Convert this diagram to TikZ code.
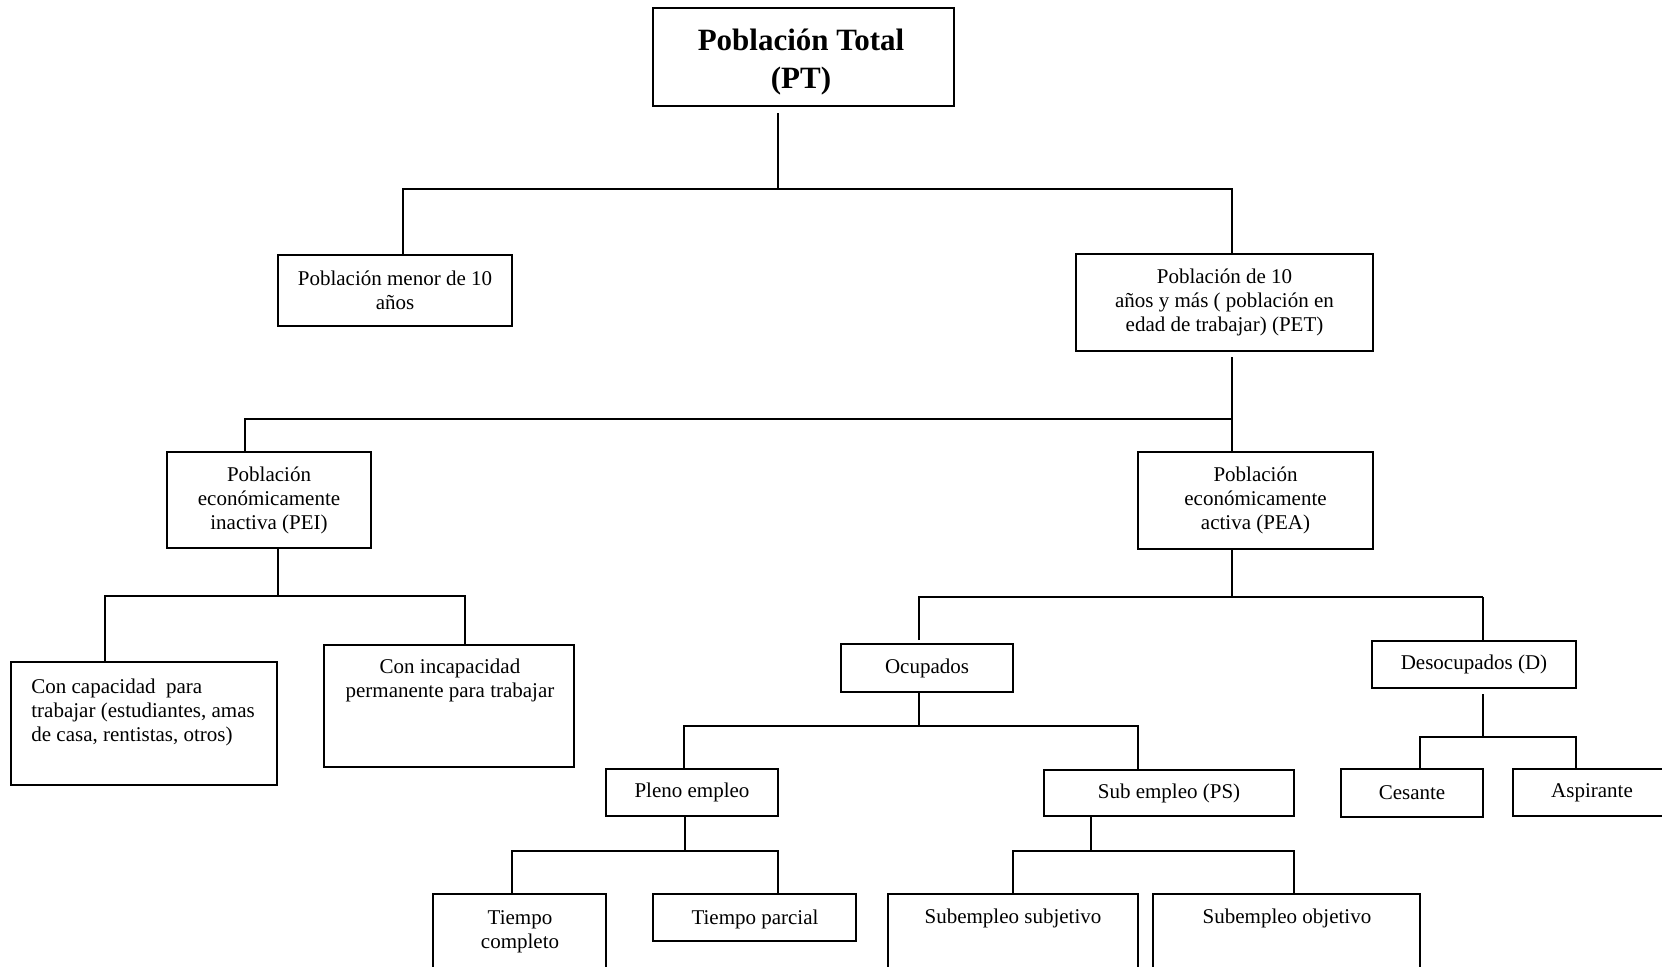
\documentclass[tikz,border=0pt]{standalone}
\usepackage{fontspec}
\setmainfont{Liberation Serif}
\begin{document}
\begin{tikzpicture}[x=0.5pt,y=-0.5pt,
  box/.style={draw, line width=1pt, inner sep=0pt, align=center, font=\fontsize{10.5}{12}\selectfont},
  txt/.style={inner sep=0pt, align=center, font=\fontsize{10.5}{12}\selectfont},
  conn/.style={line width=0.9pt},
  thinconn/.style={line width=0.7pt}]
\useasboundingbox (0,0) rectangle (1662,966);
% boxes
\node[box, minimum width=150.5pt, minimum height=49pt] (pt) at (803.5,57) {};
\node[txt, anchor=base, font=\fontsize{15.5}{19}\selectfont\bfseries] (ptt) at (801,88) {Población Total\\(PT)};
\node[box, minimum width=117pt, minimum height=35.5pt] (menor) at (395,290.5) {Población menor de 10\\años};
\node[box, minimum width=148.5pt, minimum height=48.5pt] (pet) at (1224.5,302.5) {Población de 10\\años y más ( población en\\edad de trabajar) (PET)};
\node[box, minimum width=102pt, minimum height=48pt] (pei) at (269,500) {Población\\económicamente\\inactiva (PEI)};
\node[box, minimum width=117.5pt, minimum height=48.5pt] (pea) at (1255.5,500.5) {Población\\económicamente\\activa (PEA)};
\node[box, minimum width=133pt, minimum height=61.5pt] (concap) at (144,723.5) {};
\node[txt, align=left, anchor=base west] (concapt) at (31,741) {Con capacidad\ \ para\\trabajar (estudiantes, amas\\de casa, rentistas, otros)};
\node[box, minimum width=125pt, minimum height=61pt] (conincap) at (449,706) {};
\node[txt, anchor=base] (conincapt) at (450,697) {Con incapacidad\\permanente para trabajar};
\node[box, minimum width=86pt, minimum height=24pt] (ocup) at (927,668) {Ocupados};
\node[box, minimum width=102pt, minimum height=23.5pt] (desoc) at (1474,664.5) {Desocupados (D)};
\node[box, minimum width=86pt, minimum height=23.5pt] (pleno) at (692,792.5) {Pleno empleo};
\node[box, minimum width=125pt, minimum height=23pt] (sub) at (1169,793) {Sub empleo (PS)};
\node[box, minimum width=71pt, minimum height=24pt] (ces) at (1412,793) {Cesante};
\node[box, minimum width=79pt, minimum height=23.5pt] (asp) at (1592,792.5) {Aspirante};
\node[box, minimum width=86.5pt, minimum height=53pt] (tcomp) at (519.5,947) {};
\node[txt, anchor=base] (tcompt) at (520,948) {Tiempo\\completo};
\node[box, minimum width=101.5pt, minimum height=23.5pt] (tparc) at (754.5,917.5) {};
\node[txt, anchor=base] (tparct) at (755,924) {Tiempo parcial};
\node[box, minimum width=125pt, minimum height=53pt] (ssubj) at (1013,947) {};
\node[txt, anchor=base] (ssubjt) at (1013,923) {Subempleo subjetivo};
\node[box, minimum width=133.5pt, minimum height=53pt] (sobj) at (1286.5,947) {};
\node[txt, anchor=base] (sobjt) at (1287,923) {Subempleo objetivo};
% junctions
\coordinate (h1M) at (778,189); \coordinate (h1L) at (403,189); \coordinate (h1R) at (1232,189);
\coordinate (h2L) at (245,419); \coordinate (h2R) at (1232,419);
\coordinate (h3M) at (278,596); \coordinate (h3L) at (105,596); \coordinate (h3R) at (465,596);
\coordinate (h4M) at (1232,597); \coordinate (h4L) at (919,597); \coordinate (h4R) at (1483,597);
\coordinate (h5M) at (919,726); \coordinate (h5L) at (684,726); \coordinate (h5R) at (1138,726);
\coordinate (h6M) at (1483,737); \coordinate (h6L) at (1420,737); \coordinate (h6R) at (1576,737);
\coordinate (h7M) at (685,851); \coordinate (h7L) at (512,851); \coordinate (h7R) at (778,851);
\coordinate (h8M) at (1091,851); \coordinate (h8L) at (1013,851); \coordinate (h8R) at (1294,851);
% connectors
\draw[conn] ([yshift=-3pt]pt.south -| h1M) -- (h1M);
\draw[conn] (menor.north -| h1L) -- (h1L) -- (h1R) -- (pet.north -| h1R);
\draw[conn] ([yshift=-2.5pt]pet.south -| h2R) -- (pea.north -| h2R);
\draw[conn] (pei.north -| h2L) -- (h2L) -- (h2R);
\draw[conn] (pei.south -| h3M) -- (h3M);
\draw[conn] (concap.north -| h3L) -- (h3L) -- (h3R) -- (conincap.north -| h3R);
\draw[conn] (pea.south -| h4M) -- (h4M);
\draw[conn] ([yshift=1.5pt]ocup.north -| h4L) -- (h4L) -- (h4R);
\draw[thinconn] (h4R) -- (desoc.north -| h4R);
\draw[conn] (ocup.south -| h5M) -- (h5M);
\draw[conn] (pleno.north -| h5L) -- (h5L) -- (h5R) -- (sub.north -| h5R);
\draw[thinconn] ([yshift=-2.5pt]desoc.south -| h6M) -- (h6M);
\draw[conn] (ces.north -| h6L) -- (h6L) -- (h6R) -- (asp.north -| h6R);
\draw[conn] (pleno.south -| h7M) -- (h7M);
\draw[conn] (tcomp.north -| h7L) -- (h7L) -- (h7R) -- (tparc.north -| h7R);
\draw[conn] (sub.south -| h8M) -- (h8M);
\draw[conn] (ssubj.north -| h8L) -- (h8L) -- (h8R) -- (sobj.north -| h8R);
\end{tikzpicture}
\end{document}
